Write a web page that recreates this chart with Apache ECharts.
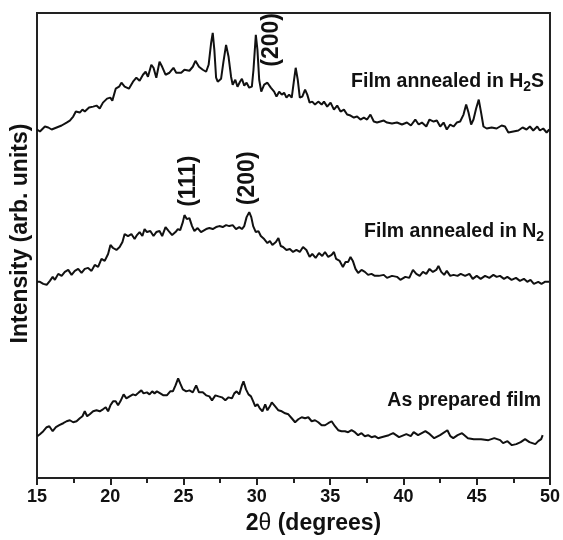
<!DOCTYPE html>
<html><head><meta charset="utf-8">
<script src="https://cdn.jsdelivr.net/npm/echarts@6/dist/echarts.min.js"></script>
<style>html,body{margin:0;padding:0;background:#fff}#c{width:563px;height:540px}</style>
</head><body><div id="c"></div>
<script>
// 2θ (degrees) and intensity (arb. units) for each film
const h2sX = [15.0,15.2,15.54,15.77,16.0,16.34,16.68,17.02,17.24,17.47,17.65,17.92,18.1,18.26,18.55,18.83,19.06,19.28,19.5,19.78,20.0,20.14,20.37,20.6,20.76,20.98,21.27,21.55,21.78,22.0,22.23,22.41,22.57,22.8,22.95,23.14,23.36,23.54,23.77,24.04,24.31,24.5,24.84,25.06,25.4,25.63,25.81,26.05,26.31,26.54,26.71,26.88,26.99,27.1,27.22,27.33,27.56,27.71,27.9,28.07,28.24,28.35,28.53,28.68,28.85,28.98,29.14,29.3,29.48,29.66,29.77,29.93,30.04,30.16,30.3,30.5,30.72,30.95,31.18,31.34,31.52,31.7,31.86,32.02,32.2,32.38,32.54,32.65,32.79,32.93,33.1,33.29,33.44,33.6,33.78,33.97,34.19,34.42,34.58,34.8,35.03,35.26,35.48,35.71,35.94,36.16,36.39,36.62,36.84,37.07,37.3,37.52,37.75,37.98,38.2,38.32,38.66,38.88,39.22,39.56,39.9,40.24,40.51,40.81,41.04,41.26,41.56,41.78,42.06,42.28,42.51,42.74,42.96,43.19,43.42,43.64,43.87,44.1,44.28,44.44,44.62,44.78,44.96,45.14,45.3,45.46,45.68,46.02,46.36,46.7,46.93,47.16,47.5,47.84,48.13,48.4,48.63,48.86,49.13,49.31,49.54,49.77,49.95];
const h2sY = [350,348,353,352,350,352,354,357,359,363,368,367,370,368,372,373,374,371,377,381,382,379,391,393,397,393,391,398,402,399,405,408,403,415,412,402,418,413,405,407,412,407,407,410,409,413,419,413,410,408,415,437,447,430,402,398,401,417,435,423,403,395,400,393,398,401,394,397,392,393,410,445,430,400,388,395,397,392,388,383,388,385,387,382,385,382,400,412,400,382,383,390,385,377,378,375,378,375,378,373,377,370,374,368,370,365,364,362,363,360,362,360,365,358,357,356,359,357,356,357,355,357,354,360,355,357,353,360,358,359,353,357,350,355,353,357,358,365,375,367,355,360,371,380,367,353,351,352,351,354,353,347,348,349,352,350,353,349,353,349,351,347,350];

const n2X = [15.0,15.2,15.43,15.66,15.88,16.07,16.22,16.45,16.68,16.9,17.13,17.36,17.58,17.81,18.04,18.26,18.49,18.72,18.94,19.17,19.4,19.62,19.85,20.01,20.19,20.42,20.64,20.83,20.98,21.21,21.44,21.66,21.82,22.0,22.19,22.34,22.5,22.73,22.95,23.14,23.36,23.54,23.77,23.99,24.22,24.45,24.61,24.77,24.95,25.06,25.22,25.4,25.58,25.74,25.96,26.19,26.54,26.76,26.99,27.22,27.44,27.67,27.9,28.12,28.35,28.58,28.8,28.98,29.14,29.3,29.48,29.62,29.75,29.93,30.11,30.27,30.5,30.72,30.89,31.06,31.3,31.47,31.63,31.79,32.02,32.25,32.47,32.7,32.93,33.15,33.38,33.6,33.78,34.01,34.24,34.46,34.65,34.87,35.1,35.26,35.41,35.65,35.87,36.05,36.23,36.39,36.55,36.73,36.91,37.14,37.37,37.59,37.82,38.05,38.32,38.66,38.88,39.22,39.56,39.79,40.13,40.4,40.65,40.88,41.11,41.33,41.56,41.78,42.01,42.24,42.39,42.58,42.78,42.96,43.19,43.42,43.69,43.91,44.21,44.5,44.73,45.0,45.27,45.57,45.86,46.14,46.36,46.59,46.86,47.09,47.38,47.68,47.95,48.22,48.45,48.67,48.9,49.2,49.42,49.65,49.95];
const n2Y = [197,197,195,194,198,202,199,205,203,207,209,204,208,210,206,210,211,208,214,212,220,218,225,234,231,229,232,237,245,243,245,240,244,247,243,250,247,248,243,247,248,243,252,248,244,247,250,249,257,264,260,261,253,248,251,247,250,251,250,252,253,252,254,253,254,250,252,250,253,262,267,262,253,247,248,243,240,236,238,234,237,241,233,232,229,230,227,229,227,232,229,222,225,221,226,223,227,222,224,227,220,218,212,217,217,222,218,210,206,209,207,204,205,203,203,204,201,203,202,199,202,201,209,205,203,207,205,210,207,209,213,207,204,208,203,204,203,205,203,205,200,203,200,203,201,204,202,203,200,202,199,201,198,200,197,199,195,197,195,197,197];

const apX = [15.02,15.2,15.43,15.66,15.84,16.07,16.29,16.52,16.79,17.02,17.24,17.47,17.7,17.92,18.1,18.26,18.42,18.6,18.83,19.06,19.28,19.5,19.69,19.85,20.01,20.19,20.37,20.53,20.69,20.91,21.1,21.32,21.55,21.73,21.95,22.12,22.27,22.5,22.68,22.86,23.02,23.18,23.41,23.63,23.86,24.09,24.27,24.45,24.63,24.77,24.95,25.18,25.4,25.63,25.86,26.05,26.31,26.54,26.76,26.94,27.17,27.39,27.62,27.85,28.07,28.3,28.46,28.62,28.8,28.98,29.09,29.26,29.43,29.6,29.75,29.89,30.04,30.2,30.38,30.57,30.72,30.89,31.02,31.25,31.47,31.7,31.93,32.15,32.38,32.61,32.83,33.06,33.29,33.51,33.74,33.97,34.19,34.42,34.65,34.87,35.1,35.33,35.55,35.78,36.01,36.23,36.46,36.69,36.91,37.14,37.37,37.59,37.82,38.05,38.27,38.5,39.0,39.3,39.7,40.2,40.5,40.7,41.0,41.5,41.8,42.1,42.5,43.0,43.2,43.4,43.7,44.0,44.4,44.8,45.3,45.8,46.2,46.6,46.8,47.1,47.4,47.7,48.0,48.3,48.6,49.0,49.2,49.4,49.5];
const apY = [42,44,47,51,52,47,51,53,55,57,58,56,57,60,62,67,62,64,67,68,67,69,71,67,73,77,77,73,77,84,80,82,84,83,86,88,85,86,84,87,85,87,85,83,83,87,87,93,100,95,89,87,88,86,93,86,86,83,82,78,83,82,81,78,81,80,85,87,84,93,97,89,84,82,77,72,74,70,67,74,68,72,76,72,68,67,65,64,60,56,59,61,60,61,57,58,56,53,53,55,57,52,48,47,47,46,48,46,43,45,42,43,41,42,40,41,43,45,41,44,42,46,43,47,44,40,43,48,42,40,43,45,40,39,39,38,40,38,35,37,33,34,36,39,36,34,37,39,43];

const xTicks = [15, 50, 5];           // min, max, interval
const curveNames = ['Film annealed in H', 'Film annealed in N', 'As prepared film'];
const peakNames = ['(200)', '(111)', '(200)'];

const FONT = '"Liberation Sans", Arial, sans-serif';
const zip = (a, b) => a.map((v, i) => [v, b[i]]);

const chart = echarts.init(document.getElementById('c'), null, {renderer: 'canvas'});
const lineSeries = (name, xs, ys) => ({
  name, type: 'line', data: zip(xs, ys), showSymbol: false, symbol: 'none',
  lineStyle: {color: '#111', width: 2}, animation: false, silent: true
});

chart.setOption({
  animation: false,
  backgroundColor: '#fff',
  grid: {left: 37, right: 11, top: 13, bottom: 60, show: true, borderColor: '#222', borderWidth: 2},
  xAxis: {
    type: 'value', min: xTicks[0], max: xTicks[1], interval: xTicks[2],
    axisLine: {show: true, lineStyle: {color: '#222', width: 2}},
    axisTick: {show: true, inside: false, length: 7, lineStyle: {color: '#222', width: 2}},
    minorTick: {show: true, splitNumber: 2, length: 5, lineStyle: {color: '#222', width: 2}},
    splitLine: {show: false}, minorSplitLine: {show: false},
    axisLabel: {color: '#111', fontSize: 18, fontWeight: 'bold', fontFamily: FONT, margin: 10},
    name: '2{t|θ} (degrees)', nameLocation: 'middle', nameGap: 34,
    nameTextStyle: {color: '#111', fontSize: 23, fontWeight: 'bold', fontFamily: FONT,
      padding: [0, 0, 0, 40],
      rich: {t: {fontSize: 23, fontWeight: 'normal', fontFamily: FONT, color: '#111'}}}
  },
  yAxis: {
    type: 'value', min: 0, max: 467,
    axisLine: {show: true, lineStyle: {color: '#222', width: 2}},
    axisTick: {show: false}, axisLabel: {show: false}, splitLine: {show: false},
    name: 'Intensity (arb. units)', nameLocation: 'middle', nameGap: 5,
    nameTextStyle: {color: '#111', fontSize: 23, fontWeight: 'bold', fontFamily: FONT,
      padding: [0, 0, 0, 24]}
  },
  series: [
    lineSeries('H2S', h2sX, h2sY),
    lineSeries('N2', n2X, n2Y),
    lineSeries('As prepared', apX, apY)
  ]
});

// annotations anchored in data coordinates
const px = (x, y) => chart.convertToPixel({gridIndex: 0}, [x, y]);
const rich = {
  a: {fontSize: 19.5, fontWeight: 'bold', fontFamily: FONT, fill: '#111'},
  s: {fontSize: 14, fontWeight: 'bold', fontFamily: FONT, fill: '#111', padding: [11, 0, 0, 0]}
};
const curveLabel = (text, x, y) => {
  const p = px(x, y);
  return {type: 'text', x: p[0], y: p[1], silent: true,
    style: {text, rich, align: 'right', verticalAlign: 'middle', fill: '#111'}};
};
const peakLabel = (text, x, y) => {
  const p = px(x, y);
  return {type: 'text', x: p[0], y: p[1], rotation: Math.PI / 2, silent: true,
    style: {text, align: 'center', verticalAlign: 'middle', fill: '#111',
      font: 'bold 23px ' + FONT}};
};
chart.setOption({graphic: [
  curveLabel('{a|' + curveNames[0] + '}{s|2}{a|S}', 49.6, 398),
  curveLabel('{a|' + curveNames[1] + '}{s|2}', 49.6, 247),
  curveLabel('{a|' + curveNames[2] + '}', 49.4, 78),
  peakLabel(peakNames[0], 31.0, 440),
  peakLabel(peakNames[1], 25.37, 298),
  peakLabel(peakNames[2], 29.34, 301)
]});
</script></body></html>
